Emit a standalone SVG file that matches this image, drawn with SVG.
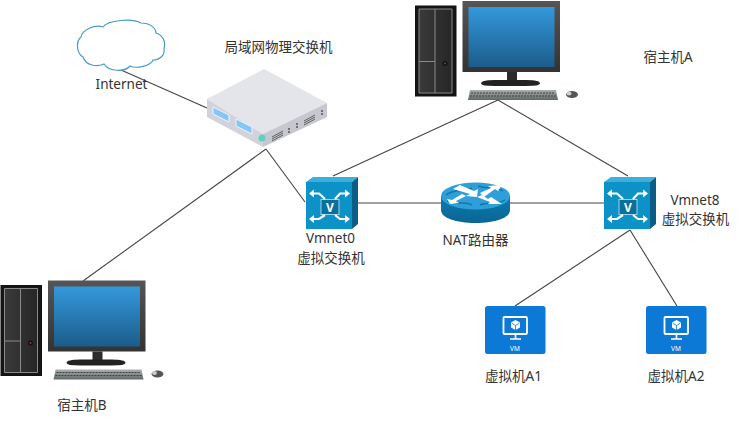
<svg xmlns="http://www.w3.org/2000/svg" xmlns:xlink="http://www.w3.org/1999/xlink" width="748" height="441" viewBox="0 0 748 441">
<style>
text{font-family:"Noto Sans","Noto Sans CJK SC",sans-serif;font-size:13.5px;fill:#333;text-anchor:middle}
.c{fill:none;stroke:#444;stroke-width:1.1}
.g{fill:none;stroke:#8a8a8a;stroke-width:1}
.ar{fill:none;stroke:#fff;stroke-width:2.200}
.hd{fill:#fff}
.vl{fill:#fff;font-weight:bold}
</style>
<defs>
<linearGradient id="scr" x1="0" y1="0" x2="0" y2="1"><stop offset="0" stop-color="#3498dc"/><stop offset="1" stop-color="#1c5c8a"/></linearGradient>
<linearGradient id="bez" x1="0" y1="0" x2="0" y2="1"><stop offset="0" stop-color="#555"/><stop offset="1" stop-color="#333"/></linearGradient>
<linearGradient id="kb" x1="0" y1="0" x2="0" y2="1"><stop offset="0" stop-color="#aab0b0"/><stop offset="1" stop-color="#626868"/></linearGradient>
<linearGradient id="twr" x1="0" y1="0" x2="1" y2="0"><stop offset="0" stop-color="#3a3a3a"/><stop offset="1" stop-color="#262626"/></linearGradient>
<linearGradient id="rt" x1="0" y1="0" x2="0" y2="1"><stop offset="0" stop-color="#0a7cb0"/><stop offset="1" stop-color="#0a6594"/></linearGradient>
<g id="pc">
<rect x="415.500" y="6" width="40.500" height="90" fill="#151515" stroke="#111"/>
<rect x="419" y="9" width="33" height="84" fill="url(#twr)"/>
<path class="g" d="M419 9H452V93H419ZM435 9V93M419 61.500H435"/>
<circle cx="445" cy="63.500" r="2.500" fill="#111"/><circle cx="445" cy="63.500" r="1" fill="#a33"/>
<rect x="462.500" y="1" width="97.500" height="71" fill="url(#bez)"/>
<rect x="468.500" y="7" width="86" height="60" fill="url(#scr)"/>
<rect x="507" y="72" width="10" height="9" fill="#2c2c2c"/>
<path d="M481 83.500Q481 80 495 80H526Q540 80 540 83.500Q540 86 526 86H495Q481 86 481 83.500Z" fill="#222"/>
<path d="M470 90H556L558 100H468Z" fill="url(#kb)"/>
<path d="M471 93H555M470 96H556" stroke="#3e4444" stroke-width="1" stroke-dasharray="2 1"/>
<ellipse cx="572" cy="94.500" rx="6" ry="3.500" fill="#555"/><ellipse cx="569" cy="93.500" rx="2.500" ry="2" fill="#c4d0d4"/>
</g>
<g id="vs">
<path d="M306 182L313 177H358L352 182Z" fill="#3ab0dc"/>
<path d="M352 182L358 177V224L352 229Z" fill="#0b5d86"/>
<rect x="306" y="182" width="46" height="47" fill="#0d92c7"/>
<rect x="321" y="199.500" width="18" height="15" fill="#0b6f9c" stroke="#9ed4ea" stroke-width="1"/>
<text class="vl" x="330" y="211.500" style="font-size:12px">V</text>
<path class="ar" d="M325 199L319 193.500H313M335 199L340 193.500H346M325 215L319 219H313M335 215L340 219H346"/>
<path class="hd" d="M309 193.500L314 189.500V197.500ZM350 193.500L345 189.500V197.500ZM309 219L314 215V223ZM350 219L345 215V223Z"/>
</g>
<g id="vm">
<rect x="485" y="306" width="60.500" height="48" rx="2.500" fill="#0d79d6"/>
<rect x="503.500" y="317" width="23.500" height="17" rx="1" fill="none" stroke="#fff" stroke-width="1.800"/>
<path d="M510 339H521M515.500 335V339" stroke="#fff" stroke-width="1.600"/>
<path d="M515.500 320L520 322.500V327.500L515.500 330L511 327.500V322.500Z" fill="#fff"/>
<path d="M511.500 323L515.500 325.500L519.500 323M515.500 325.500V330" stroke="#0d79d6" stroke-width="0.800" fill="none"/>
<text class="vl" x="515" y="351" style="font-size:6.500px;font-weight:normal">VM</text>
</g>
</defs>
<g id="connectors">
<path class="c" d="M121 70L207 108"/>
<path class="c" d="M266 149L83 281"/>
<path class="c" d="M266 149L305 202"/>
<path class="c" d="M498 100L333 176"/>
<path class="c" d="M498 100L628 176"/>
<path class="c" d="M358 203H441"/>
<path class="c" d="M510 203H604"/>
<path class="c" d="M630 230L515 306"/>
<path class="c" d="M630 230L677 306"/>
</g>
<g id="internet">
<path d="M81 37C82 30 95 24 103 27C108 20 132 18 141 23C150 23 156 28 156 33C163 35 166 42 164 49C165 55 160 60 153 60C151 66 136 69 130 66C125 72 109 72 104 64C97 67 86 66 83 57C76 53 76 41 81 37Z" fill="#fff" stroke="#4a9bc4" stroke-width="1.200"/>
<text x="121.500" y="88.500">Internet</text>
</g>
<g id="physical-switch">
<path d="M207 99L264 69L327 103L263 134Z" fill="#e4e5ea"/>
<path d="M207 99L263 134V147L207 117Z" fill="#d2d3da"/>
<path d="M263 134L327 103V117L263 147Z" fill="#c6c7cf"/>
<path d="M213 107L229 115V122L213 114Z" fill="#86c5f7" stroke="#eef4fb"/>
<path d="M236 119L252 127V134L236 126Z" fill="#86c5f7" stroke="#eef4fb"/>
<circle cx="262" cy="138" r="3.500" fill="#5fd0c4"/>
<path d="M272 137L283 131M272 139L283 133M272 141L283 135M304 121L315 115M304 123L315 117M304 125L315 119" stroke="#555" stroke-width="0.900"/>
<path d="M289 128V130M289 131V133M297 123V125M297 126V128M322 110V112M322 113V115" stroke="#555" stroke-width="1.500"/>
<text x="278.500" y="51.500">局域网物理交换机</text>
</g>
<g id="host-a">
<use xlink:href="#pc"/>
<text x="668" y="61.500">宿主机A</text>
</g>
<g id="host-b">
<use xlink:href="#pc" x="-414.500" y="279.500"/>
<text x="82" y="410">宿主机B</text>
</g>
<g id="vmnet0">
<use xlink:href="#vs"/>
<text x="330.500" y="243">Vmnet0</text>
<text x="331" y="263">虚拟交换机</text>
</g>
<g id="nat-router">
<path d="M441 196V210C441 218 456 223 475.500 223C495 223 510 218 510 210V196Z" fill="url(#rt)"/>
<ellipse cx="475.500" cy="196" rx="34.500" ry="13.500" fill="#2f9fd9"/>
<path d="M446 195C456 188 464 192 472 188M478 186C488 190 494 185 503 191M447 201C456 206 464 200 472 205M480 205C488 201 496 206 505 200" fill="none" stroke="#0f78ad" stroke-width="1.500"/>
<path d="M453 189L460 185L474 191L478 189L477 197L466 196L470 194Z" class="hd"/>
<path d="M480 193L491 188L488 186L502 185L498 191L495 189L484 197Z" class="hd"/>
<path d="M466 196L456 201L459 203L450 204L447 199L452 200L462 194Z" class="hd"/>
<path d="M477 197L482 195L488 199L491 197L502 204H488L490 202Z" class="hd"/>
<text x="475.500" y="244.500">NAT路由器</text>
</g>
<g id="vmnet8">
<use xlink:href="#vs" x="298"/>
<text x="695" y="205">Vmnet8</text>
<text x="695.500" y="224">虚拟交换机</text>
</g>
<g id="vm-a1">
<use xlink:href="#vm"/>
<text x="513.500" y="381">虚拟机A1</text>
</g>
<g id="vm-a2">
<use xlink:href="#vm" x="161"/>
<text x="676" y="381">虚拟机A2</text>
</g>
</svg>
